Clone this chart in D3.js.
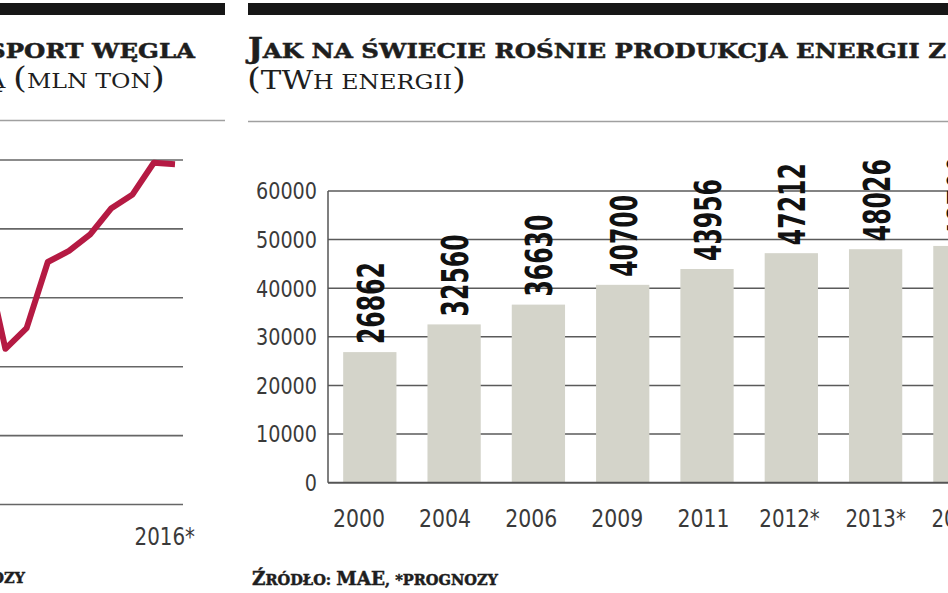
<!DOCTYPE html>
<html><head><meta charset="utf-8">
<script src="https://cdn.jsdelivr.net/npm/d3@7"></script>
<style>
html,body{margin:0;padding:0;background:#fff;}
svg{display:block;}
</style></head>
<body>
<svg id="c" width="948" height="593"></svg>
<script>
// ---------- DATA ----------
// Right panel: bar chart (TWh)
const barYears = ["2000","2004","2006","2009","2011","2012*","2013*","2014*"];
const barValues = [26862, 32560, 36630, 40700, 43956, 47212, 48026, 48700];
const barLabels = ["26862","32560","36630","40700","43956","47212","48026","48700"];
const barTicks = [0,10000,20000,30000,40000,50000,60000];

// Left panel: line chart (mln ton)
const lineYears = [2007,2008,2009,2010,2011,2012,2013,2014,2015,2016];
const lineValues = [182,113,128,176,184,196,215,225,248,247];
const lineTicks = [0,50,100,150,200,250];
const lineXLabel = "2016*";

// Texts
const rightTitle1 = "Jak na świecie rośnie produkcja energii z";
const rightTitle2 = "(TWh energii)";
const leftTitle1 = "Eksport węgla";
const leftTitle2 = "morską (mln ton)";
const rightSource = "Źródło: MAE, *prognozy";
const leftSource = "*prognozy";

// ---------- DRAW ----------
const svg = d3.select("#c");
const ink = "#1e1e1e";
const serif = "'DejaVu Serif', 'Liberation Serif', serif";
const sans = "'DejaVu Sans', sans-serif";

// header rules
svg.append("rect").attr("x",0).attr("y",3).attr("width",225).attr("height",12).attr("fill","#161616");
svg.append("rect").attr("x",248).attr("y",3).attr("width",700).attr("height",12).attr("fill","#161616");
svg.append("line").attr("x1",0).attr("x2",225).attr("y1",120.5).attr("y2",120.5).attr("stroke","#a0a0a0").attr("stroke-width",1.5);
svg.append("line").attr("x1",248).attr("x2",948).attr("y1",121.5).attr("y2",121.5).attr("stroke","#a0a0a0").attr("stroke-width",1.5);

// small caps helper
function smallCaps(g, text, big, small, weight){
  const t = g.append("text").attr("font-family", serif).attr("font-weight", weight).attr("fill", ink);
  if (weight === "bold") t.attr("stroke", ink).attr("stroke-width", 0.5);
  let runs = [];
  for (const ch of text){
    let size, c;
    if (ch === "(" || ch === ")") { size = big + 4; c = ch; }
    else if (ch !== ch.toLowerCase()) { size = big; c = ch; }
    else { size = small; c = ch.toUpperCase(); }
    if (runs.length && runs[runs.length-1].size === size) runs[runs.length-1].txt += c;
    else runs.push({size, txt:c});
  }
  runs.forEach(r => t.append("tspan").attr("font-size", r.size).text(r.txt));
  return t;
}

// right titles
const rt1 = smallCaps(svg, rightTitle1, 27, 21, "bold").attr("x",248).attr("y",57.5);
const rt1n = rt1.node().getComputedTextLength();
rt1.attr("textLength", 698).attr("lengthAdjust","spacingAndGlyphs");
const f1 = 698 / rt1n;

const rt2 = smallCaps(svg, rightTitle2, 26, 20, "normal").attr("x",247).attr("y",89);
const rt2n = rt2.node().getComputedTextLength();
rt2.attr("textLength", 219).attr("lengthAdjust","spacingAndGlyphs");
const f2 = 219 / rt2n;

// left titles (same stretch as right ones)
const lt1 = smallCaps(svg, leftTitle1, 27, 21, "bold").attr("x",195).attr("y",57.5).attr("text-anchor","end");
lt1.attr("textLength", lt1.node().getComputedTextLength()*f1).attr("lengthAdjust","spacingAndGlyphs");
const lt2 = smallCaps(svg, leftTitle2, 26, 20, "normal").attr("x",165).attr("y",88).attr("text-anchor","end");
lt2.attr("textLength", lt2.node().getComputedTextLength()*f2).attr("lengthAdjust","spacingAndGlyphs");

// sources
const rs = smallCaps(svg, rightSource, 19, 15, "bold").attr("x",252).attr("y",585);
const rsn = rs.node().getComputedTextLength();
rs.attr("textLength", 246).attr("lengthAdjust","spacingAndGlyphs");
const f3 = 246 / rsn;
const ls = smallCaps(svg, leftSource, 19, 15, "bold").attr("x",25).attr("y",583).attr("text-anchor","end");
ls.attr("textLength", ls.node().getComputedTextLength()*f3).attr("lengthAdjust","spacingAndGlyphs");

// numeric text helper
function numText(g, s, size, perChar, weight){
  const t = g.append("text").attr("font-family", sans).attr("font-stretch","condensed")
    .attr("font-size", size).attr("font-weight", weight).text(s);
  let w = 0; for (const ch of s) w += (ch === "*" ? 0.65 : 1) * perChar;
  t.attr("textLength", w).attr("lengthAdjust","spacingAndGlyphs");
  return t;
}

// ---------- LEFT LINE CHART ----------
const xL = d3.scaleLinear().domain([2007,2016]).range([-15.8,175]);
const yL = d3.scaleLinear().domain([0,250]).range([504.5,160]);
svg.append("g").selectAll("line").data(lineTicks).join("line")
  .attr("x1",0).attr("x2",183).attr("y1",d=>yL(d)).attr("y2",d=>yL(d))
  .attr("stroke","#666").attr("stroke-width",1.6);
svg.append("path").datum(lineYears.map((y,i)=>[y,lineValues[i]]))
  .attr("d", d3.line().x(d=>xL(d[0])).y(d=>yL(d[1])))
  .attr("fill","none").attr("stroke","#b51a43").attr("stroke-width",6)
  .attr("stroke-linejoin","round");
numText(svg, lineXLabel, 24.5, 13, "normal").attr("fill","#3a3a3a")
  .attr("x", xL(2016)+20).attr("y",545).attr("text-anchor","end");

// ---------- RIGHT BAR CHART ----------
const x0 = 328, xEnd = 948;
const yR = d3.scaleLinear().domain([0,60000]).range([482.7,191]);
const pi = 0.368, po = 0.18, step = 84.3;
const xR = d3.scaleBand().domain(barYears)
  .range([x0, x0 + step*(barYears.length - pi + 2*po)]).paddingInner(pi).paddingOuter(po);
const xLab = d3.scalePoint().domain(barYears).range([359, 359 + 86.1*(barYears.length-1)]);

svg.append("g").selectAll("line").data(barTicks.filter(d=>d>0)).join("line")
  .attr("x1",x0).attr("x2",xEnd).attr("y1",d=>yR(d)).attr("y2",d=>yR(d))
  .attr("stroke","#5a5a5a").attr("stroke-width",1.5);

svg.append("g").selectAll("rect").data(barValues).join("rect")
  .attr("x",(d,i)=>xR(barYears[i])).attr("width",xR.bandwidth())
  .attr("y",d=>yR(d)).attr("height",d=>yR(0)-yR(d))
  .attr("fill","#d4d4ca");

svg.append("line").attr("x1",x0).attr("x2",xEnd).attr("y1",yR(0)).attr("y2",yR(0))
  .attr("stroke","#555").attr("stroke-width",2);
svg.append("line").attr("x1",x0).attr("x2",x0).attr("y1",yR(60000)).attr("y2",yR(0))
  .attr("stroke","#555").attr("stroke-width",1.5);

// y tick labels
barTicks.forEach(t=>{
  numText(svg, String(t), 23, 12.2, "normal").attr("fill","#3a3a3a")
    .attr("x",317).attr("y",yR(t)+8.3).attr("text-anchor","end");
});

// x labels
barYears.forEach(y=>{
  numText(svg, y, 24.5, 13, "normal").attr("fill","#3a3a3a")
    .attr("x",xLab(y)).attr("y",527).attr("text-anchor","middle");
});

// value labels (rotated)
barValues.forEach((v,i)=>{
  const cx = xR(barYears[i]) + xR.bandwidth()/2;
  const g = svg.append("g").attr("transform",`translate(${cx+14},${yR(v)-8}) rotate(-90)`);
  numText(g, barLabels[i], 38, 16.4, "bold").attr("fill","#111").attr("x",0).attr("y",0);
});
</script>
</body></html>
